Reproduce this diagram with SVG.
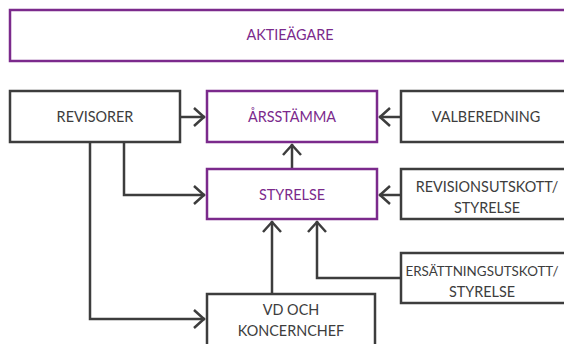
<svg xmlns="http://www.w3.org/2000/svg" width="564" height="344" viewBox="0 0 564 344">
<defs>
<style>
.bg{fill:#ffffff}
.p{fill:#ffffff;stroke:#7b2a8c;stroke-width:2.5}
.g{fill:#ffffff;stroke:#3d3d3d;stroke-width:2.5}
.tp{font-family:Lato,"Noto Sans",sans-serif;font-size:14.4px;fill:#7b2a8c;text-anchor:middle}
.tg{font-family:Lato,"Noto Sans",sans-serif;font-size:14.4px;fill:#3d3d3d;text-anchor:middle}
.c{fill:none;stroke:#3d3d3d;stroke-width:2.5}
</style>
<marker id="ah" markerUnits="userSpaceOnUse" viewBox="-14 -12 16 24" refX="0" refY="0" markerWidth="16" markerHeight="24" orient="auto">
<path d="M-11,-9 L-1,0 L-11,9" fill="none" stroke="#3d3d3d" stroke-width="2.5"/>
</marker>
</defs>
<rect class="bg" x="0" y="0" width="564" height="344"/>
<g id="connectors">
<path class="c" d="M180,117 H205" marker-end="url(#ah)"/>
<path class="c" d="M401,117 H379" marker-end="url(#ah)"/>
<path class="c" d="M292,169 V144" marker-end="url(#ah)"/>
<path class="c" d="M124,142 V195 H205" marker-end="url(#ah)"/>
<path class="c" d="M90,142 V319 H205" marker-end="url(#ah)"/>
<path class="c" d="M401,195 H379" marker-end="url(#ah)"/>
<path class="c" d="M272,294 V221" marker-end="url(#ah)"/>
<path class="c" d="M401,278 H317 V221" marker-end="url(#ah)"/>
</g>
<g id="aktieagare">
<rect class="p" x="10" y="10" width="562" height="51"/>
<text class="tp" x="290" y="40">AKTIEÄGARE</text>
</g>
<g id="revisorer">
<rect class="g" x="10" y="91" width="170" height="51"/>
<text class="tg" x="95" y="122">REVISORER</text>
</g>
<g id="arsstamma">
<rect class="p" x="207" y="91" width="170" height="51"/>
<text class="tp" x="292" y="122">ÅRSSTÄMMA</text>
</g>
<g id="valberedning">
<rect class="g" x="401" y="91" width="171" height="51"/>
<text class="tg" x="486" y="122">VALBEREDNING</text>
</g>
<g id="styrelse">
<rect class="p" x="207" y="169" width="170" height="50"/>
<text class="tp" x="292" y="200">STYRELSE</text>
</g>
<g id="revisionsutskott">
<rect class="g" x="401" y="169" width="171" height="50"/>
<text class="tg" x="487" y="192">REVISIONSUTSKOTT/</text>
<text class="tg" x="487" y="213">STYRELSE</text>
</g>
<g id="ersattningsutskott">
<rect class="g" x="401" y="253" width="171" height="50"/>
<text class="tg" x="482" y="276" style="font-size:13.4px">ERSÄTTNINGSUTSKOTT/</text>
<text class="tg" x="482" y="297">STYRELSE</text>
</g>
<g id="vd">
<rect class="g" x="207" y="294" width="168" height="60"/>
<text class="tg" x="291" y="315">VD OCH</text>
<text class="tg" x="291" y="336">KONCERNCHEF</text>
</g>
</svg>
